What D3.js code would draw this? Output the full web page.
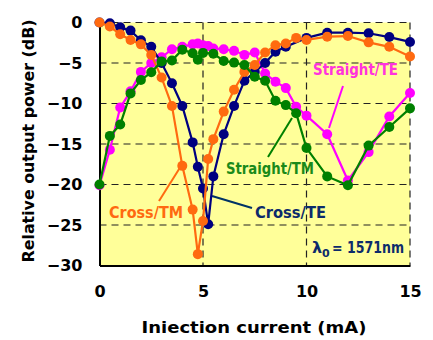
<!DOCTYPE html>
<html><head><meta charset="utf-8">
<script src="https://d3js.org/d3.v7.min.js"></script>
<style>body{margin:0;background:#fff}svg{display:block}text{font-family:"DejaVu Sans",sans-serif;font-weight:bold}</style>
</head><body><div id="c"></div>
<script>
const crossTE_x = [0,0.5,1,1.5,2,2.5,3,3.5,4,4.5,4.75,5,5.25,5.5,6,6.5,7,7.5,8,8.5,9,10,11,12,13,14,15];
const crossTE_y = [0,-0.1,-0.6,-1.0,-2.2,-3.0,-5.0,-7.5,-10.3,-14.8,-17.8,-20.5,-24.9,-19.0,-13.8,-10.3,-7.2,-6.1,-5.0,-3.6,-3.0,-1.9,-1.26,-1.26,-1.33,-1.8,-2.4];
const crossTM_x = [0,0.5,1,1.5,2,2.5,3,3.5,4,4.5,4.75,5,5.25,5.5,6,6.5,7,7.5,8,8.5,9,9.5,10,11,12,13,14,15];
const crossTM_y = [0,-0.5,-1.45,-2.15,-2.7,-4.0,-6.8,-10.3,-17.7,-23.1,-28.6,-24.5,-16.85,-14.4,-11.0,-8.3,-6.1,-5.25,-3.7,-2.8,-2.6,-1.9,-2.15,-1.75,-1.67,-2.45,-3.0,-4.2];
const straightTE_x = [0,0.5,1,1.5,2,2.5,3,3.5,4,4.5,4.75,5,5.25,5.5,6,6.5,7,7.5,8,8.5,9,9.5,10,11,12,13,14,15];
const straightTE_y = [-20.1,-15.7,-10.5,-8.5,-6.1,-5.0,-4.3,-3.3,-3.0,-2.7,-2.6,-2.8,-2.9,-3.2,-3.3,-3.5,-4.0,-3.7,-6.3,-7.3,-8.1,-10.4,-11.5,-13.8,-19.5,-16.0,-11.6,-8.7];
const straightTM_x = [0,0.5,1,1.5,2,2.5,3,3.5,4,4.5,4.75,5,5.5,6,6.5,7,7.5,8,8.5,9,9.5,10,11,12,13,14,15];
const straightTM_y = [-20.0,-14.0,-12.6,-8.75,-7.1,-6.15,-4.8,-4.7,-3.35,-3.8,-4.6,-3.75,-3.85,-4.75,-4.95,-5.25,-6.7,-7.2,-9.65,-10.2,-11.2,-15.5,-19.0,-20.1,-15.2,-12.9,-10.6];
const xTicks = [0,5,10,15];
const yTicks = [0,-5,-10,-15,-20,-25,-30];

const W=433,H=340;
const svg=d3.select("#c").append("svg").attr("width",W).attr("height",H);
const x=d3.scaleLinear().domain([0,15]).range([99.5,410]);
const y=d3.scaleLinear().domain([-30,0]).range([265.5,22.5]);

svg.append("rect").attr("x",x(0)).attr("y",y(0)).attr("width",x(15)-x(0)).attr("height",y(-30)-y(0)).attr("fill","#ffff99");

const g=svg.append("g").attr("stroke","#222").attr("stroke-width",1.2).attr("stroke-dasharray","7,5");
g.selectAll(".h").data(yTicks.filter(d=>d>-30)).enter().append("line")
 .attr("x1",x(0)).attr("x2",x(15)).attr("y1",d=>y(d)).attr("y2",d=>y(d));
g.selectAll(".v").data(xTicks.filter(d=>d>0)).enter().append("line")
 .attr("x1",d=>x(d)).attr("x2",d=>x(d)).attr("y1",y(0)).attr("y2",y(-30));

const xa=svg.append("g").attr("transform",`translate(0,${y(-30)})`)
 .call(d3.axisBottom(x).tickValues(xTicks).tickSize(0).tickPadding(20).tickFormat(d3.format("d")));
xa.select(".domain").attr("stroke","#000").attr("stroke-width",2);
xa.selectAll("text").attr("font-size",16).attr("fill","#000").attr("font-family","DejaVu Sans").attr("font-weight","bold");
const ya=svg.append("g").attr("transform",`translate(${x(0)},0)`)
 .call(d3.axisLeft(y).tickValues(yTicks).tickSize(0).tickPadding(17).tickFormat(d=>d<0?"\u2212"+(-d):d));
ya.select(".domain").attr("stroke","#000").attr("stroke-width",2);
ya.selectAll("text").attr("font-size",16).attr("fill","#000").attr("font-family","DejaVu Sans").attr("font-weight","bold");

svg.append("text").attr("x",254).attr("y",333).attr("text-anchor","middle").attr("font-size",16)
 .attr("textLength",225).attr("lengthAdjust","spacingAndGlyphs").text("Iniection current (mA)");
svg.append("text").attr("transform","translate(34,141) rotate(-90)").attr("text-anchor","middle").attr("font-size",16)
 .attr("textLength",243).attr("lengthAdjust","spacingAndGlyphs").text("Relative output power (dB)");

function series(xs,ys,color){
  const pts=xs.map((d,i)=>[d,ys[i]]);
  const s=svg.append("g");
  s.append("path").datum(pts).attr("fill","none").attr("stroke",color).attr("stroke-width",2.2)
   .attr("d",d3.line().x(d=>x(d[0])).y(d=>y(d[1])));
  s.selectAll("circle").data(pts).enter().append("circle")
   .attr("cx",d=>x(d[0])).attr("cy",d=>y(d[1])).attr("r",5).attr("fill",color);
}
const cTE="#000080",cTM="#ff6a10",sTE="#ff00ff",sTM="#008000";

function pline(x1,y1,x2,y2,c){svg.append("line").attr("x1",x1).attr("y1",y1).attr("x2",x2).attr("y2",y2).attr("stroke",c).attr("stroke-width",2);}
pline(343,86,329,128,sTE);
pline(268,157,292,118,sTM);
pline(159,201,181,166,cTM);
pline(252,208,212,196,"#003366");

series(straightTE_x,straightTE_y,sTE);
series(crossTE_x,crossTE_y,cTE);
series(crossTM_x,crossTM_y,cTM);
series(straightTM_x,straightTM_y,sTM);

function label(t,x0,len,base,c){svg.append("text").attr("x",x0).attr("y",base).attr("font-size",16)
 .attr("textLength",len).attr("lengthAdjust","spacingAndGlyphs").attr("fill",c).text(t);}
label("Straight/TE",313,85,75,"#ff33dd");
label("Straight/TM",226,88,173.5,"#1a8a1a");
label("Cross/TM",109,74,218,"#ff6a10");
label("Cross/TE",255,71,218,"#0d2b6b");
svg.append("text").attr("x",312).attr("y",253).attr("font-size",16).attr("fill","#0d2b6b").text("λ");
svg.append("text").attr("x",322).attr("y",257).attr("font-size",11).attr("fill","#0d2b6b").text("0");
svg.append("text").attr("x",332).attr("y",253).attr("font-size",16).attr("fill","#0d2b6b")
 .attr("textLength",72).attr("lengthAdjust","spacingAndGlyphs").text("= 1571nm");
</script></body></html>
